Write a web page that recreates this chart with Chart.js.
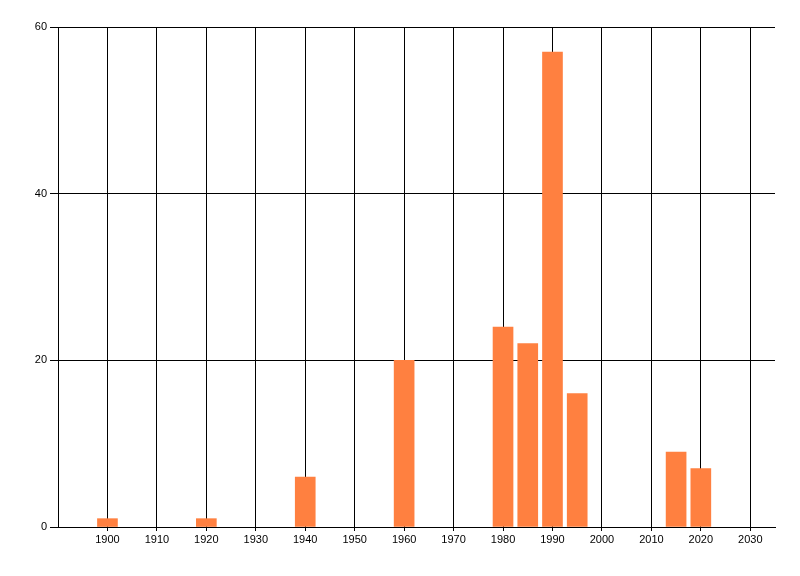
<!DOCTYPE html>
<html>
<head>
<meta charset="utf-8">
<script src="https://cdn.jsdelivr.net/npm/chart.js@4"></script>
<style>
  html, body { margin: 0; padding: 0; background: #fff; }
  #wrap { width: 800px; height: 576px; }
</style>
</head>
<body>
<div id="wrap"><canvas id="chart" width="800" height="576"></canvas></div>
<script>
// data
const years = [1900, 1920, 1940, 1960, 1980, 1985, 1990, 1995, 2015, 2020];
const counts = [1, 1, 6, 20, 24, 22, 57, 16, 9, 7];
const xTicks = [1900, 1910, 1920, 1930, 1940, 1950, 1960, 1970, 1980, 1990, 2000, 2010, 2020, 2030];
const yTicks = [0, 20, 40, 60];

const points = years.map((y, i) => ({ x: y, y: counts[i] }));

const ctx = document.getElementById('chart').getContext('2d');
new Chart(ctx, {
  type: 'bar',
  data: {
    datasets: [{
      data: points,
      backgroundColor: '#ff8040',
      borderWidth: 0,
      barThickness: 20
    }]
  },
  options: {
    responsive: false,
    animation: false,
    layout: { padding: { top: 27, right: 25, left: 0, bottom: 0 } },
    plugins: { legend: { display: false }, tooltip: { enabled: false } },
    scales: {
      x: {
        type: 'linear',
        min: 1890,
        max: 2035,
        offset: false,
        afterBuildTicks: (axis) => { axis.ticks = xTicks.map(v => ({ value: v })); },
        afterFit: (axis) => { axis.height = 49; },
        grid: { color: '#000', lineWidth: 1, offset: false, tickLength: 4, tickColor: '#000' },
        border: { color: '#000', width: 1 },
        ticks: {
          color: '#000',
          padding: 2,
          maxRotation: 0,
          font: { family: 'Liberation Sans', size: 11 },
          callback: (v) => String(v)
        }
      },
      y: {
        min: 0,
        max: 60,
        afterBuildTicks: (axis) => { axis.ticks = yTicks.map(v => ({ value: v })); },
        afterFit: (axis) => { axis.width = 58; },
        grid: { color: '#000', lineWidth: 1, tickLength: 8, tickColor: '#000' },
        border: { color: '#000', width: 1 },
        ticks: {
          color: '#000',
          padding: 3,
          font: { family: 'Liberation Sans', size: 11 }
        }
      }
    }
  }
});
</script>
</body>
</html>
